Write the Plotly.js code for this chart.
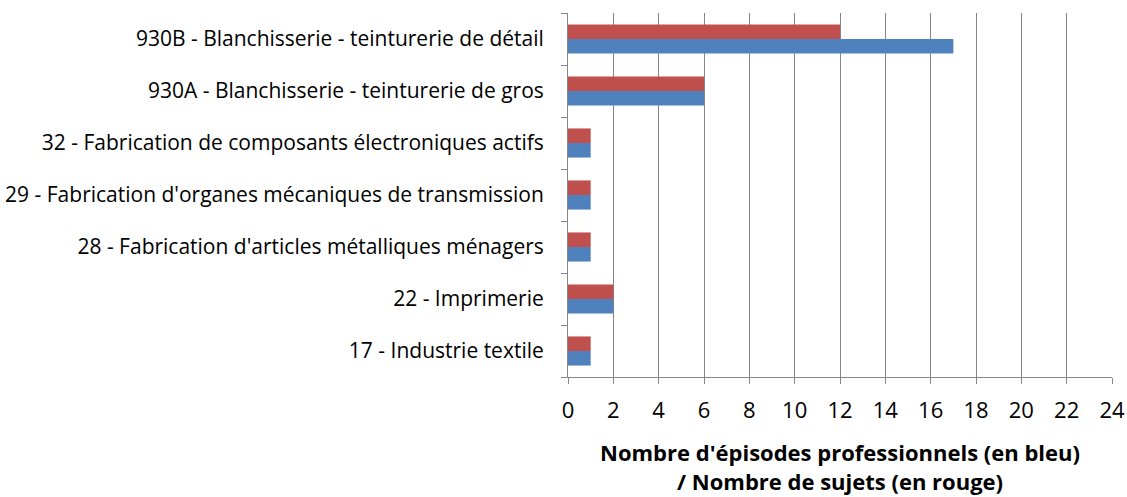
<!DOCTYPE html>
<html><head><meta charset="utf-8">
<script src="https://cdn.plot.ly/plotly-3.0.1.min.js"></script>
<style>body{margin:0;background:#fff}</style>
</head><body>
<div id="chart" style="width:1127px;height:497px"></div>
<script>
const categories = [
  "17 - Industrie textile",
  "22 - Imprimerie",
  "28 - Fabrication d'articles métalliques ménagers",
  "29 - Fabrication d'organes mécaniques de transmission",
  "32 - Fabrication de composants électroniques actifs",
  "930A - Blanchisserie - teinturerie de gros",
  "930B - Blanchisserie - teinturerie de détail"
];
const episodes = [1, 2, 1, 1, 1, 6, 17];
const sujets = [1, 2, 1, 1, 1, 6, 12];
const xTicks = [0, 2, 4, 6, 8, 10, 12, 14, 16, 18, 20, 22, 24];

const font = "'Open Sans', sans-serif";
const data = [
  {type: 'bar', orientation: 'h', y: categories, x: episodes, name: 'Épisodes',
   marker: {color: '#4f81bd'}},
  {type: 'bar', orientation: 'h', y: categories, x: sujets, name: 'Sujets',
   marker: {color: '#c0504d'}}
];
const layout = {
  width: 1127, height: 497,
  margin: {l: 568, r: 15, t: 13, b: 120},
  barmode: 'group', bargap: 0.44, bargroupgap: 0,
  showlegend: false,
  paper_bgcolor: '#fff', plot_bgcolor: '#fff',
  font: {family: font, color: '#000'},
  xaxis: {
    range: [0, 24], tickvals: xTicks, ticktext: xTicks.map(String),
    showgrid: true, gridcolor: '#868686', gridwidth: 1,
    showline: true, linecolor: '#868686', linewidth: 1,
    ticks: 'outside', ticklen: 6, tickcolor: '#868686',
    tickfont: {size: 22, family: font},
    ticklabelstandoff: 8,
    zeroline: false,
    title: {text: "<b>Nombre d'épisodes professionnels (en bleu)<br>/ Nombre de sujets (en rouge)</b>",
            font: {size: 22, family: font}, standoff: 22}
  },
  yaxis: {
    showline: true, linecolor: '#868686', linewidth: 1,
    ticks: 'outside', ticklen: 6, tickcolor: '#868686', tickson: 'boundaries',
    tickfont: {size: 21, family: font},
    ticklabelstandoff: 19,
    showgrid: false
  }
};
Plotly.newPlot('chart', data, layout, {displayModeBar: false});
</script>
</body></html>
